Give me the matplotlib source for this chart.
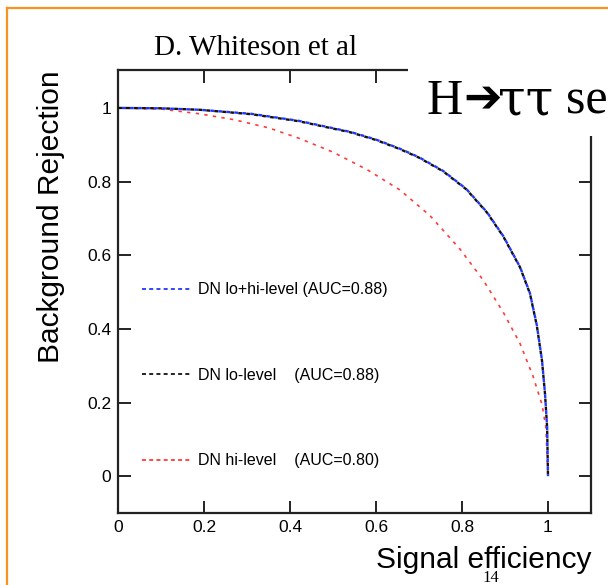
import matplotlib
matplotlib.use("Agg")
import matplotlib.pyplot as plt
from matplotlib.lines import Line2D
from matplotlib.patches import Rectangle


# -------------------------------------------------------------------------
# DATA
# -------------------------------------------------------------------------
eff_lohi = [0.0, 0.1, 0.19, 0.31, 0.42, 0.54, 0.60, 0.656, 0.70, 0.756, 0.81,
            0.858, 0.896, 0.935, 0.958, 0.974, 0.986, 0.993, 0.998, 1.0]
rej_lohi = [1.0, 0.999, 0.995, 0.984, 0.965, 0.935, 0.914, 0.889, 0.866, 0.829,
            0.780, 0.717, 0.652, 0.568, 0.497, 0.410, 0.315, 0.225, 0.133, 0.0]

eff_lo = [0.0, 0.1, 0.19, 0.31, 0.42, 0.54, 0.60, 0.656, 0.70, 0.756, 0.81,
          0.858, 0.896, 0.935, 0.958, 0.974, 0.986, 0.993, 0.998, 1.0]
rej_lo = [1.0, 0.999, 0.995, 0.983, 0.964, 0.934, 0.913, 0.888, 0.865, 0.828,
          0.779, 0.716, 0.651, 0.567, 0.496, 0.409, 0.314, 0.224, 0.132, 0.0]

eff_hi = [0.0, 0.1, 0.19, 0.27, 0.35, 0.42, 0.5, 0.58, 0.656, 0.726,
          0.795, 0.849, 0.896, 0.935, 0.965, 0.986, 0.995, 1.0]
rej_hi = [1.0, 0.997, 0.984, 0.968, 0.946, 0.918, 0.880, 0.832, 0.777, 0.707,
          0.617, 0.533, 0.445, 0.360, 0.272, 0.195, 0.133, 0.0]

labels = ["DN lo+hi-level (AUC=0.88)",
          "DN lo-level    (AUC=0.88)",
          "DN hi-level    (AUC=0.80)"]

x_ticks = [0, 0.2, 0.4, 0.6, 0.8, 1.0]
x_tick_labels = ["0", "0.2", "0.4", "0.6", "0.8", "1"]
y_ticks = [0, 0.2, 0.4, 0.6, 0.8, 1.0]
y_tick_labels = ["0", "0.2", "0.4", "0.6", "0.8", "1"]

# -------------------------------------------------------------------------
# STYLE
# -------------------------------------------------------------------------
W, H = 608, 585
SANS = "Liberation Sans"
SERIF = ["Liberation Serif", "DejaVu Serif", "DejaVu Sans"]
BLUE = "#2036ff"
BLACK = "#111111"
RED = "#ff3b3b"
ORANGE = "#f7931e"

fig = plt.figure(figsize=(W / 100, H / 100), dpi=100)
fig.patch.set_facecolor("white")

# axes box in pixels: left 118, right 591, top 70, bottom 513
ax = fig.add_axes([118 / W, 1 - 513 / H, (591 - 118) / W, (513 - 70) / H])

ax.plot(eff_hi, rej_hi, color=RED, lw=1.2, linestyle=(0, (2.0, 3.2)),
        label=labels[2], zorder=2)
ax.plot(eff_lo, rej_lo, color=BLACK, lw=1.7, linestyle=(0, (1.6, 1.8)),
        label=labels[1], zorder=3)
ax.plot(eff_lohi, rej_lohi, color=BLUE, lw=1.7, linestyle=(1.7, (1.6, 1.8)),
        label=labels[0], zorder=4)

ax.set_xlim(0, 1.1)
ax.set_ylim(-0.1, 1.103)
ax.set_xticks(x_ticks)
ax.set_xticklabels(x_tick_labels)
ax.set_yticks(y_ticks)
ax.set_yticklabels(y_tick_labels)
ax.minorticks_off()
ax.tick_params(direction="in", length=9, width=1.4, color="#222222",
               top=True, right=True, labelsize=12.5, pad=5)
for lab in ax.get_xticklabels() + ax.get_yticklabels():
    lab.set_fontfamily(SANS)
for sp in ax.spines.values():
    sp.set_linewidth(1.6)
    sp.set_color("#222222")

ax.set_xlabel("Signal efficiency", family=SANS, fontsize=21.5, loc="right",
              labelpad=8)
ax.set_ylabel("Background Rejection", family=SANS, fontsize=21.5, loc="top",
              labelpad=16)

handles = [Line2D([], [], color=BLUE, lw=1.3, linestyle=(0, (2.2, 1.8))),
           Line2D([], [], color=BLACK, lw=1.3, linestyle=(0, (2.2, 1.8))),
           Line2D([], [], color=RED, lw=1.3, linestyle=(0, (2.2, 1.8)))]
ax.legend(handles, labels, loc="upper left", bbox_to_anchor=(0.05, 0.521),
          frameon=False, prop={"family": SANS, "size": 11.5},
          handlelength=3.0, handletextpad=0.5, labelspacing=4.42,
          borderpad=0, borderaxespad=0)

# -------------------------------------------------------------------------
# SLIDE DECORATIONS
# -------------------------------------------------------------------------
# orange slide border (top and left edges visible)
fig.add_artist(Line2D([6.5 / W, 1.0], [1 - 8 / H, 1 - 8 / H],
                      transform=fig.transFigure, color=ORANGE, lw=1.6))
fig.add_artist(Line2D([6.5 / W, 6.5 / W], [0.0, 1 - 8 / H],
                      transform=fig.transFigure, color=ORANGE, lw=1.6))

# white title box overlapping the plot corner
fig.add_artist(Rectangle((408 / W, 1 - 136 / H), (W - 408) / W, 76 / H,
                         transform=fig.transFigure, facecolor="white",
                         edgecolor="none", zorder=5))
title_y = 1 - 114 / H
fig.text(426 / W, title_y, "H", family=SERIF, fontsize=36,
         ha="left", va="baseline", zorder=6)
fig.text(463 / W, 1 - 99 / H, "\u2794", family=["DejaVu Sans"], fontsize=33,
         fontweight="bold", ha="left", va="center", zorder=6)
fig.text(498 / W, title_y, "\u03c4\u03c4", family=["DejaVu Serif"],
         fontsize=36, ha="left", va="baseline", zorder=6)
fig.text(566 / W, title_y, "se", family=SERIF, fontsize=36,
         ha="left", va="baseline", zorder=6)

fig.text(256 / W, 1 - 48 / H, "D. Whiteson et al", family=SERIF,
         fontsize=21, ha="center", va="center")
fig.text(491 / W, 1 - 582 / H, "14", family=SERIF, fontsize=12,
         ha="center", va="baseline")

fig.savefig("out.png", dpi=100)
